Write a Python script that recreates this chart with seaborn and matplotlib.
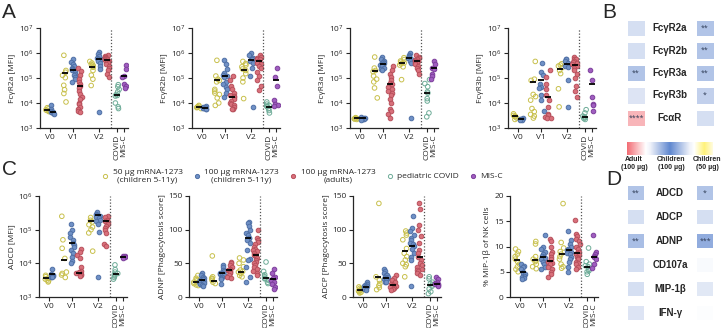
import numpy as np
import matplotlib
matplotlib.use('Agg')
import matplotlib.pyplot as plt
import seaborn as sns
from matplotlib import ticker, transforms
from matplotlib.colors import LinearSegmentedColormap, Normalize
from matplotlib.cm import ScalarMappable
from matplotlib.lines import Line2D

np.random.seed(3)  # jitter only

# ---------------- data ----------------
GROUPS = ['V0_50', 'V0_100', 'V1_50', 'V1_100', 'V1_ad',
          'V2_50', 'V2_100', 'V2_ad', 'COVID', 'MISC']

FCGR2A = {
    'V0_50': [6.5e3, 5.8e3, 5.3e3, 5.0e3, 4.7e3, 4.5e3],
    'V0_100': [8e3, 5.5e3, 4.8e3, 4.4e3, 4.2e3, 4.0e3, 3.6e3],
    'V1_50': [8.1e5, 2.0e5, 1.7e5, 1.28e5, 1.03e5, 5.1e4, 3.4e4, 2.4e4, 1.1e4],
    'V1_100': [5.5e5, 4.5e5, 3.8e5, 3.0e5, 2.6e5, 2.2e5, 2.0e5, 1.8e5, 1.5e5, 1.3e5, 1.1e5, 9e4, 7e4],
    'V1_ad': [2.6e5, 1.9e5, 1.3e5, 9e4, 7e4, 5.5e4, 5e4, 4e4, 3e4, 2.3e4, 1.8e4, 1.4e4, 1e4, 9e3, 7e3, 6e3, 5e3, 4.2e3],
    'V2_50': [4.6e5, 4.0e5, 3.5e5, 3.2e5, 2.8e5, 2.7e5, 2.0e5, 1.3e5, 9e4, 5e4],
    'V2_100': [1.1e6, 9e5, 7.5e5, 6.5e5, 6e5, 5.8e5, 5e5, 4e5, 3e5, 2.2e5, 4.5e3],
    'V2_ad': [8e5, 7.5e5, 7e5, 6.5e5, 6.2e5, 6e5, 5.6e5, 5.5e5, 5.3e5, 5e5, 4.8e5, 4.5e5, 4e5, 3.5e5, 3e5, 2.5e5, 2e5, 1.5e5, 1.1e5],
    'COVID': [5.4e4, 4.5e4, 3.5e4, 2.8e4, 2.2e4, 2e4, 1.9e4, 1e4, 7e3, 6e3],
    'MISC': [3.2e5, 2.2e5, 1.2e5, 1.1e5, 6e4, 5e4, 4e4],
}
FCGR2A_MEAN = [5.4e3, 4.4e3, 1.6e5, 2.15e5, 5e4, 2.75e5, 5.9e5, 5.4e5, 2e4, 1.17e5]

FCGR2B = {
    'V0_50': [8e3, 7.5e3, 7e3, 6.8e3, 6.5e3, 6e3],
    'V0_100': [7.5e3, 7e3, 6.8e3, 6.5e3, 6.2e3, 6e3, 5.8e3],
    'V1_50': [5.1e5, 1.2e5, 9e4, 8e4, 7e4, 3.5e4, 3e4, 2.5e4, 2.2e4, 1.6e4, 1e4, 8e3],
    'V1_100': [5.1e5, 3.5e5, 2.2e5, 1.6e5, 1.3e5, 1.2e5, 1.1e5, 7e4, 5.5e4, 4.5e4, 3.5e4, 2.5e4, 1.7e4],
    'V1_ad': [1.2e5, 8e4, 5e4, 3.5e4, 2.5e4, 2e4, 1.9e4, 1.8e4, 1.4e4, 1.2e4, 1e4, 9e3, 8e3, 7e3, 6e3, 5.5e3],
    'V2_50': [4.6e5, 3.8e5, 3.3e5, 2.8e5, 2.3e5, 2e5, 1.5e5, 1e5, 7e4, 1.5e4],
    'V2_100': [1e6, 8e5, 6.5e5, 5.8e5, 5.5e5, 5e5, 4e5, 2.5e5, 1.2e5, 7e3],
    'V2_ad': [8e5, 7e5, 6.5e5, 6e5, 5.5e5, 5e5, 4.5e5, 4e5, 3.5e5, 3e5, 2.5e5, 1.8e5, 1.2e5, 8e4, 5e4, 3.2e4],
    'COVID': [1.1e4, 9e3, 8e3, 7.5e3, 7e3, 6e3, 5e3, 4e3],
    'MISC': [2.6e5, 1.1e5, 5e4, 1.3e4, 9e3, 8e3, 7.5e3],
}
FCGR2B_MEAN = [7e3, 6.5e3, 8e4, 1.17e5, 1.8e4, 2.15e5, 5.4e5, 4.8e5, 6.8e3, 8e4]

FCGR3A = {
    'V0_50': [2.6e3, 2.5e3, 2.4e3, 2.35e3, 2.3e3, 2.2e3],
    'V0_100': [2.7e3, 2.5e3, 2.4e3, 2.35e3, 2.3e3, 2.2e3, 2.1e3],
    'V1_50': [6.9e5, 2.5e5, 2e5, 1.8e5, 1.2e5, 9e4, 7e4, 4e4, 1.6e4],
    'V1_100': [6.9e5, 6e5, 5e5, 4.5e5, 4e5, 3.6e5, 3.5e5, 3.2e5, 3e5, 2.6e5, 2.2e5, 2e5],
    'V1_ad': [3e5, 2e5, 1.5e5, 1.1e5, 8e4, 6.5e4, 5.5e4, 4.5e4, 3.5e4, 3e4, 2.5e4, 2e4, 1.5e4, 1e4, 6e3, 5e3, 3.5e3, 2.5e3],
    'V2_50': [6.5e5, 5.5e5, 4.8e5, 4.3e5, 4e5, 3.7e5, 3.3e5, 2.8e5, 8.6e4],
    'V2_100': [1e6, 8.5e5, 7.5e5, 7e5, 6.5e5, 6e5, 5e5, 4e5, 2.5e3],
    'V2_ad': [8e5, 7e5, 6.5e5, 6e5, 5.5e5, 5.2e5, 5e5, 4.8e5, 4.5e5, 4e5, 3.5e5, 3e5, 2.5e5, 2e5, 1.5e5],
    'COVID': [8.6e4, 6e4, 4.5e4, 2.8e4, 2.5e4, 1.5e4, 1.2e4, 4e3, 2.8e3],
    'MISC': [4.8e5, 3.5e5, 2.5e5, 2.3e5, 1.5e5, 1.2e5, 9.4e4],
}
FCGR3A_MEAN = [2.4e3, 2.4e3, 1.85e5, 3.5e5, 5.9e4, 4e5, 6.5e5, 5e5, 2.5e4, 2.4e5]

FCGR3B = {
    'V0_50': [3.7e3, 3.2e3, 3.0e3, 2.8e3, 2.5e3, 2.2e3],
    'V0_100': [2.5e3, 2.35e3, 2.25e3, 2.2e3, 2.1e3, 2.0e3],
    'V1_50': [4.6e5, 9e4, 8e4, 2.2e4, 1.8e4, 1.3e4, 6e3, 4.5e3, 3.5e3, 3e3, 2.5e3],
    'V1_100': [4e5, 1.7e5, 1.3e5, 6e4, 4.5e4, 4e4, 2e4, 1.3e4, 5e3],
    'V1_ad': [2e5, 1.1e5, 6e4, 3.7e4, 2e4, 1.3e4, 7e3, 3.7e3, 3.2e3, 2.8e3, 2.6e3, 2.4e3],
    'V2_50': [3.7e5, 3.3e5, 3e5, 2.6e5, 2e5, 1.5e5, 3.7e4, 7e3],
    'V2_100': [6e5, 5.5e5, 5e5, 4e5, 3e5, 2.8e5, 8e4, 7e3],
    'V2_ad': [6.9e5, 6e5, 5.5e5, 5e5, 4.5e5, 4e5, 3.5e5, 3e5, 2.5e5, 2e5, 1.5e5, 1e5, 5e4, 3e4, 1.7e4],
    'COVID': [5.4e3, 4e3, 3e3, 2.8e3, 2.6e3, 2.4e3, 2.2e3],
    'MISC': [2e5, 8e4, 1.7e4, 9.4e3, 8.5e3, 5e3],
}
FCGR3B_MEAN = [2.9e3, 2.3e3, 7e4, 8e4, 1.7e4, 2.2e5, 3.7e5, 3.2e5, 2.75e3, 6e4]

ADCD = {
    'V0_50': [4.4e3, 4e3, 3.6e3, 3.4e3, 3.2e3, 3e3, 2.8e3],
    'V0_100': [6.8e3, 4.8e3, 4.5e3, 4.3e3, 4.2e3, 4e3, 3.9e3],
    'V1_50': [2.5e5, 5e4, 2.8e4, 1.4e4, 5.5e3, 5e3, 4.5e3, 3.8e3],
    'V1_100': [1.5e5, 1e5, 8e4, 6e4, 5e4, 4e4, 3.5e4, 3e4, 2.5e4, 2e4, 1.5e4, 1.2e4, 1e4],
    'V1_ad': [2.6e4, 2.2e4, 1.8e4, 1.4e4, 8e3, 6e3, 5.5e3, 5e3, 4.8e3, 4.5e3, 4.3e3],
    'V2_50': [2.3e5, 1.9e5, 1.7e5, 1.4e5, 1.2e5, 1e5, 8e4, 2.3e4],
    'V2_100': [3.3e5, 3e5, 2.8e5, 2.6e5, 2.4e5, 2.2e5, 2e5, 1.8e5, 1.5e5, 8.5e4, 4e3],
    'V2_ad': [2.6e5, 2.3e5, 2e5, 1.8e5, 1.7e5, 1.5e5, 1.3e5, 1.1e5, 1e5, 8e4, 3.8e4, 3.3e4],
    'COVID': [9e3, 6.5e3, 5.5e3, 5e3, 4.6e3, 4.2e3, 3.8e3, 3.4e3],
    'MISC': [1.7e4, 1.6e4, 1.55e4, 1.5e4, 1.45e4],
}
ADCD_MEAN = [3.6e3, 4.8e3, 1.25e4, 3.9e4, 5.1e3, 1.77e5, 2.7e5, 1.77e5, 4.8e3, 1.55e4]

ADNP = {
    'V0_50': [32, 28, 26, 24, 22, 21, 20, 18, 17],
    'V0_100': [35, 32, 30, 28, 26, 25, 24, 23, 22, 21, 20, 18, 17],
    'V1_50': [61, 30, 28, 27, 25, 22, 20],
    'V1_100': [48, 45, 40, 38, 36, 35, 34, 33, 32, 30, 28, 27, 20],
    'V1_ad': [52, 50, 48, 45, 42, 40, 40, 38, 37, 35, 33, 30, 28],
    'V2_50': [58, 55, 50, 45, 40, 38, 37, 35, 32, 30],
    'V2_100': [112, 110, 105, 100, 95, 92, 88, 87, 85, 80, 70, 57, 55, 45, 30, 22],
    'V2_ad': [100, 88, 85, 82, 78, 75, 72, 70, 68, 65, 63, 62, 60, 58, 55, 52, 50, 48, 45, 42, 38, 35, 32],
    'COVID': [52, 38, 33, 30, 28, 27, 25, 22, 20],
    'MISC': [42, 36, 30, 28, 25, 22, 20, 15, 12],
}
ADNP_MEAN = [22, 25, 24, 35, 40, 37, 87, 62, 28, 26]

ADCP = {
    'V0_50': [15, 13, 12, 11, 10, 9, 8, 7, 6],
    'V0_100': [22, 20, 18, 17, 16, 15, 14, 13, 12, 11],
    'V1_50': [139, 30, 25, 20, 17, 14, 11],
    'V1_100': [42, 38, 35, 33, 32, 30, 29, 28, 27, 26, 25, 23, 22],
    'V1_ad': [32, 28, 25, 22, 20, 18, 17, 16, 15, 14, 12, 10],
    'V2_50': [98, 95, 92, 85, 72, 65, 60, 55, 50, 48, 45, 30],
    'V2_100': [120, 103, 98, 92, 88, 85, 80, 78, 76, 72, 65, 60, 55, 16],
    'V2_ad': [140, 130, 107, 100, 90, 80, 70, 65, 60, 55, 50, 48, 45, 42, 40, 38, 35, 32],
    'COVID': [30, 27, 22, 20, 18, 16, 12, 8, 5],
    'MISC': [30, 26, 23, 21, 20, 19, 18, 17],
}
ADCP_MEAN = [11, 15, 30, 28, 18, 68, 76, 59, 18, 20]

MIP1B = {
    'V0_50': [9.5, 9, 8.5, 8, 7.5, 7, 6.5, 6, 5.5, 5],
    'V0_100': [6.5, 6.2, 6, 5.5, 5, 4.8, 4.5, 4.2, 4, 3.8, 3.6],
    'V1_50': [11, 10.5, 8, 7.5, 7.2, 7, 6.5, 6, 5.6],
    'V1_100': [12.3, 10, 9.5, 9, 8.5, 8.2, 8, 7.8, 7.5, 7, 6.5, 6, 5.6],
    'V1_ad': [11.5, 11, 10, 9, 8.5, 8, 7.5, 7, 6.8, 6.5, 6, 5.5, 5, 4.5, 4],
    'V2_50': [18.5, 10.8, 9.7, 9, 8.5, 8, 7.5, 6.5, 6, 5.7],
    'V2_100': [13, 11.3, 10.5, 10, 9.5, 9.3, 9, 8.8, 8.5, 8, 7.5, 7, 6, 5],
    'V2_ad': [15.3, 12.5, 12, 11.5, 11, 10.5, 10, 9.5, 9, 8.8, 8.5, 8.3, 8, 7.8, 7.5, 7, 6.8, 6.5, 6, 5.6],
    'COVID': [9.7, 7, 6.5, 6.2, 6, 5.5, 5.2, 5, 4.5],
    'MISC': [12.2, 9, 8.5, 8.2, 8, 7.5, 6.5, 5.7],
}
MIP1B_MEAN = [7.4, 5, 7.4, 8, 7.2, 8.6, 9.4, 8.7, 6, 8]

# heatmaps: position on the colour scale (0 = adult, 0.5 = children 100, 0.9 = children 50)
B_LABELS = ['FcγR2a', 'FcγR2b', 'FcγR3a', 'FcγR3b', 'FcαR']
B_LEFT = [0.31, 0.31, 0.37, 0.30, 0.11]
B_RIGHT = [0.37, 0.37, 0.37, 0.34, 0.31]
B_LEFT_SIG = ['', '', '**', '', '****']
B_RIGHT_SIG = ['**', '**', '**', '*', '']

D_LABELS = ['ADCD', 'ADCP', 'ADNP', 'CD107a', 'MIP-1β', 'IFN-γ']
D_LEFT = [0.37, 0.31, 0.38, 0.31, 0.31, 0.30]
D_RIGHT = [0.37, 0.31, 0.42, 0.76, 0.29, 0.77]
D_LEFT_SIG = ['**', '', '**', '', '', '']
D_RIGHT_SIG = ['*', '', '***', '', '', '']

LEGEND_LABELS = ['50 µg mRNA-1273\n(children 5-11y)', '100 µg mRNA-1273\n(children 5-11y)',
                 '100 µg mRNA-1273\n(adults)', 'pediatric COVID', 'MIS-C']

# ---------------- style ----------------
sns.set_style('ticks')
plt.rcParams['font.family'] = ['Open Sans', 'DejaVu Sans']
plt.rcParams['mathtext.default'] = 'regular'

FACE = {'V0_50': '#c8c04c', 'V0_100': '#7091c6', 'V1_50': '#c8c04c', 'V1_100': '#7091c6',
        'V1_ad': '#d9707b', 'V2_50': '#c8c04c', 'V2_100': '#7091c6', 'V2_ad': '#d9707b',
        'COVID': '#6eac98', 'MISC': '#a05ec0'}
EDGE = {'V0_50': '#c8c04c', 'V0_100': '#4f70a6', 'V1_50': '#c8c04c', 'V1_100': '#4f70a6',
        'V1_ad': '#b8505c', 'V2_50': '#c8c04c', 'V2_100': '#4f70a6', 'V2_ad': '#b8505c',
        'COVID': '#6eac98', 'MISC': '#7d3f9c'}
OPEN = {'V0_50', 'V1_50', 'V2_50', 'COVID'}
# x slot of each group inside a panel (px from the y axis)
POS = {'V0_50': 7, 'V0_100': 13, 'V1_50': 25, 'V1_100': 33, 'V1_ad': 40,
       'V2_50': 52, 'V2_100': 59, 'V2_ad': 67, 'COVID': 77, 'MISC': 84}

CMAP = LinearSegmentedColormap.from_list('grp', [
    (0.00, '#f26b73'), (0.22, '#ffffff'), (0.27, '#eef1f9'), (0.50, '#5f87cf'),
    (0.73, '#eef1f9'), (0.78, '#ffffff'), (0.90, '#fff27a'), (1.00, '#fffbe0')])

W, H = 721, 328
fig = plt.figure(figsize=(W / 100, H / 100), dpi=100)


def px_axes(left, top, width, height):
    return fig.add_axes([left / W, 1 - (top + height) / H, width / W, height / H])


def strip_panel(ax, data, means, ylabel, log=True, ylim=(1e3, 1e7), yticks=None):
    if log:
        ax.set_yscale('log')
    for g in GROUPS:
        vals = data[g]
        sns.stripplot(x=np.full(len(vals), POS[g]), y=vals, orient='v', native_scale=True,
                      jitter=2.6, color=FACE[g], edgecolor=EDGE[g], linewidth=0.7,
                      size=3.3, ax=ax, zorder=2)
        if g in OPEN:
            ax.collections[-1].set_facecolor('none')
    mx = np.array([POS[g] for g in GROUPS])
    ax.hlines(means, mx - 3.2, mx + 3.2, color='k', lw=1.3, zorder=3)
    ax.axvline(71, color='#555555', ls=(0, (1, 1.5)), lw=0.9)
    ax.set_xlim(0, 88)
    ax.set_ylim(*ylim)
    if log:
        ax.yaxis.set_major_locator(ticker.LogLocator(base=10, numticks=10))
        ax.yaxis.set_minor_locator(ticker.NullLocator())
    else:
        ax.set_yticks(yticks)
    ax.set_xticks([10, 33, 59, 77, 84])
    ax.set_xticklabels(['V0', 'V1', 'V2', 'COVID', 'MIS-C'])
    for t in ax.get_xticklabels()[3:]:
        t.set_rotation(90)
    ax.set_ylabel(ylabel, fontsize=6, labelpad=2)
    ax.tick_params(labelsize=6, length=3, width=0.8, pad=1.5)
    for s in ['left', 'bottom']:
        ax.spines[s].set_linewidth(0.9)
    sns.despine(ax=ax)


panels_a = [(40, FCGR2A, FCGR2A_MEAN, 'FcγR2a [MFI]'), (192, FCGR2B, FCGR2B_MEAN, 'FcγR2b [MFI]'),
            (350, FCGR3A, FCGR3A_MEAN, 'FcγR3a [MFI]'), (508, FCGR3B, FCGR3B_MEAN, 'FcγR3b [MFI]')]
for left, d, m, lab in panels_a:
    strip_panel(px_axes(left, 28, 88, 100), d, m, lab)

strip_panel(px_axes(39, 196, 88, 101), ADCD, ADCD_MEAN, 'ADCD [MFI]', ylim=(1e3, 1e6))
strip_panel(px_axes(189, 196, 88, 101), ADNP, ADNP_MEAN, 'ADNP [Phagocytosis score]',
            log=False, ylim=(0, 150), yticks=[0, 50, 100, 150])
strip_panel(px_axes(353, 196, 88, 101), ADCP, ADCP_MEAN, 'ADCP [Phagocytosis score]',
            log=False, ylim=(0, 150), yticks=[0, 50, 100, 150])
strip_panel(px_axes(510, 196, 88, 101), MIP1B, MIP1B_MEAN, '% MIP-1β of NK cells',
            log=False, ylim=(0, 20), yticks=[0, 5, 10, 15, 20])

# legend
handles = []
for g, lab in zip(['V0_50', 'V0_100', 'V1_ad', 'COVID', 'MISC'], LEGEND_LABELS):
    handles.append(Line2D([], [], ls='', marker='o', ms=3, mew=0.7,
                          mfc='none' if g in OPEN else FACE[g], mec=EDGE[g], label=lab))
leg = fig.legend(handles=handles, loc='center', bbox_to_anchor=(302 / W, 1 - 176 / H), ncol=5,
                 frameon=False, fontsize=6, handletextpad=0.4, columnspacing=1.2,
                 handlelength=1.0, borderpad=0)
for t in leg.get_texts():
    t.set_multialignment('center')


# heatmaps B and D
def heat_col(ax, vals, sig, lw):
    sns.heatmap(np.array(vals).reshape(-1, 1), ax=ax, cmap=CMAP, vmin=0, vmax=1, cbar=False,
                linewidths=lw, linecolor='white', annot=np.array(sig).reshape(-1, 1), fmt='',
                annot_kws={'fontsize': 5, 'color': '#2e3b55'}, xticklabels=False, yticklabels=False)


def row_labels(ax, labels, left, width):
    tr = transforms.blended_transform_factory(ax.transAxes, ax.transData)
    for i, lab in enumerate(labels):
        ax.text((670 - left) / width, i + 0.5, lab, transform=tr, ha='center', va='center',
                fontsize=7, weight='bold', family=['Liberation Sans', 'DejaVu Sans'])


axb1 = px_axes(623.75, 16.75, 24.5, 112.5)
axb2 = px_axes(692.75, 16.75, 24.5, 112.5)
heat_col(axb1, B_LEFT, B_LEFT_SIG, 4.7)
heat_col(axb2, B_RIGHT, B_RIGHT_SIG, 4.7)
row_labels(axb1, B_LABELS, 623.75, 24.5)

axd1 = px_axes(623, 181, 26, 144)
axd2 = px_axes(692, 181, 26, 144)
heat_col(axd1, D_LEFT, D_LEFT_SIG, 5.8)
heat_col(axd2, D_RIGHT, D_RIGHT_SIG, 5.8)
row_labels(axd1, D_LABELS, 623, 26)

cax = px_axes(627, 142, 86, 13)
cb = fig.colorbar(ScalarMappable(norm=Normalize(0, 1), cmap=CMAP), cax=cax, orientation='horizontal')
cb.outline.set_visible(False)
cax.set_xticks([])
for x, lab in [(634, 'Adult\n(100 µg)'), (671, 'Children\n(100 µg)'), (707, 'Children\n(50 µg)')]:
    fig.text(x / W, 1 - 156 / H, lab, ha='center', va='top', fontsize=5, weight='bold',
             linespacing=1.15, family=['Liberation Sans', 'DejaVu Sans'])

# panel letters
for x, y, s in [(2, 3, 'A'), (602, 3, 'B'), (2, 160, 'C'), (606, 170, 'D')]:
    fig.text(x / W, 1 - y / H, s, fontsize=15, va='top', family=['Liberation Sans', 'DejaVu Sans'])

fig.savefig('out.png', dpi=100)
